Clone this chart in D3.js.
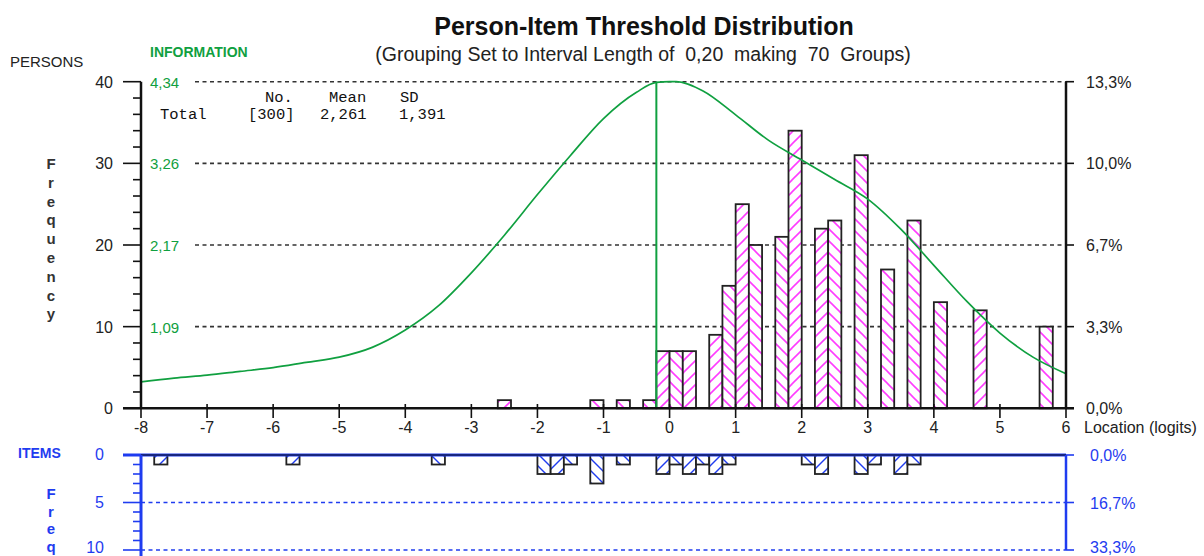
<!DOCTYPE html>
<html><head><meta charset="utf-8">
<script src="https://cdn.jsdelivr.net/npm/d3@7"></script>
<style>
body{margin:0;background:#fff}
svg{display:block}
text{font-family:Arial,"Liberation Sans",sans-serif}
</style>
</head><body><svg id="c" width="1204" height="556"></svg>
<script>
// ---------- data ----------
const personBinStart = [-2.6,-1.2,-0.8,-0.4,-0.2,0.0,0.2,0.6,0.8,1.0,1.2,1.6,1.8,2.2,2.4,2.8,3.2,3.6,4.0,4.6,5.6];
const personCounts   = [1,1,1,1,7,7,7,9,15,25,20,21,34,22,23,31,17,23,13,12,10];
const itemBinStart   = [-7.8,-5.8,-3.6,-2.0,-1.8,-1.6,-1.2,-0.8,-0.2,0.0,0.2,0.4,0.6,0.8,2.0,2.2,2.8,3.0,3.4,3.6];
const itemCounts     = [1,1,1,2,2,1,3,1,2,1,2,1,2,1,1,2,2,1,2,1];
const infoLocation   = [-8,-7.5,-7,-6.5,-6,-5.5,-5,-4.5,-4,-3.5,-3,-2.5,-2,-1.5,-1,-0.5,-0.2,0,0.1,0.5,1,1.5,2,2.5,3,3.5,4,4.5,5,5.5,6];
const infoValues     = [0.35,0.40,0.44,0.49,0.54,0.61,0.68,0.81,1.04,1.36,1.80,2.30,2.84,3.36,3.85,4.20,4.33,4.34,4.34,4.22,3.90,3.56,3.30,3.04,2.78,2.38,1.90,1.42,1.00,0.68,0.46];
const xTicks = [-8,-7,-6,-5,-4,-3,-2,-1,0,1,2,3,4,5,6];
const personTicks = [0,10,20,30,40];
const infoTickLabels = ["1,09","2,17","3,26","4,34"];
const personPctLabels = ["0,0%","3,3%","6,7%","10,0%","13,3%"];
const itemTicks = [0,5,10];
const itemPctLabels = ["0,0%","16,7%","33,3%"];
const binWidth = 0.2;
const infoMax = 4.34, infoLineAt = -0.2;
const statsHeader = ["No.","Mean","SD"];
const statsRow = ["Total","[300]","2,261","1,391"];

// ---------- setup ----------
const svg = d3.select("#c");
const GREEN = "#10a040", MAG = "#ff3cff", BLUE = "#1f3cf0", DARK = "#222";
const x = d3.scaleLinear().domain([-8,6]).range([141,1066]);
const y = d3.scaleLinear().domain([0,40]).range([408.3,81.7]);
const yInfo = d3.scaleLinear().domain([0,infoMax]).range([408.3,81.7]);
const yItem = d3.scaleLinear().domain([0,10]).range([455,550]);

const defs = svg.append("defs");
function hatch(id, color, dir, size, sw){
  const p = defs.append("pattern").attr("id",id).attr("patternUnits","userSpaceOnUse")
    .attr("width",size).attr("height",size);
  p.append("rect").attr("width",size).attr("height",size).attr("fill","#fff");
  const lines = dir==="/" ? [[-1,size+1,size+1,-1],[-size-1,size+1, 1,-1],[size-1,size+1,2*size+1,-1]]
                          : [[-1,-1,size+1,size+1],[-size-1,-1,1,size+1],[size-1,-1,2*size+1,size+1]];
  lines.forEach(l=>p.append("line").attr("x1",l[0]).attr("y1",l[1]).attr("x2",l[2]).attr("y2",l[3])
    .attr("stroke",color).attr("stroke-width",sw));
}
hatch("pf",MAG,"/",12,1.6);
hatch("pb",MAG,"\\",12,1.6);
hatch("if",BLUE,"/",12,1.4);
hatch("ib",BLUE,"\\",12,1.4);
const binIndex = v => Math.round(v/binWidth);

// ---------- titles ----------
svg.append("text").attr("x",644).attr("y",35).attr("text-anchor","middle")
  .attr("font-size",25).attr("font-weight","bold").attr("fill","#111").text("Person-Item Threshold Distribution");
svg.append("text").attr("x",643).attr("y",61).attr("text-anchor","middle").attr("xml:space","preserve")
  .attr("font-size",19.5).attr("fill","#222").style("white-space","pre")
  .text("(Grouping Set to Interval Length of  0,20  making  70  Groups)");
svg.append("text").attr("x",10).attr("y",67).attr("font-size",15).attr("fill",DARK).text("PERSONS");
svg.append("text").attr("x",150).attr("y",57).attr("font-size",14).attr("font-weight","bold").attr("fill",GREEN).text("INFORMATION");
svg.append("text").attr("x",18).attr("y",458).attr("font-size",14).attr("font-weight","bold").attr("fill",BLUE).text("ITEMS");

// vertical "Frequency"
"Frequency".split("").forEach((ch,i)=>{
  svg.append("text").attr("x",51).attr("y",169+i*18.8).attr("text-anchor","middle")
    .attr("font-size",15).attr("font-weight","bold").attr("fill","#333").text(ch);
});
"Freq".split("").forEach((ch,i)=>{
  svg.append("text").attr("x",51).attr("y",499+i*17.6).attr("text-anchor","middle")
    .attr("font-size",15).attr("font-weight","bold").attr("fill",BLUE).text(ch);
});

// ---------- upper panel grid ----------
svg.append("g").selectAll("line").data(personTicks.filter(d=>d>0)).join("line")
  .attr("x1",195).attr("x2",1066).attr("y1",d=>y(d)).attr("y2",d=>y(d))
  .attr("stroke","#333").attr("stroke-width",1.6).attr("stroke-dasharray","4,3.5");

// info labels
svg.append("g").selectAll("text").data(personTicks.filter(d=>d>0)).join("text")
  .attr("x",150).attr("y",d=>y(d)+6).attr("font-size",15).attr("fill",GREEN)
  .text((d,i)=>infoTickLabels[i]);

// stats block
const mono = 'font-family:"Liberation Mono","Courier New",monospace';
[265,329,400].forEach((px,i)=>{
  svg.append("text").attr("x",px).attr("y",102).attr("font-size",15.5).attr("style",mono).attr("fill","#111").text(statsHeader[i]);
});
[160,248,320,399].forEach((px,i)=>{
  svg.append("text").attr("x",px).attr("y",119).attr("font-size",15.5).attr("style",mono).attr("fill","#111").text(statsRow[i]);
});

// person bars
svg.append("g").selectAll("rect").data(personBinStart.map((s,i)=>({s,c:personCounts[i]}))).join("rect")
  .attr("x",d=>x(d.s)).attr("width",d=>x(d.s+binWidth)-x(d.s))
  .attr("y",d=>y(d.c)).attr("height",d=>y(0)-y(d.c))
  .attr("fill",d=>binIndex(d.s)%2!==0?"url(#pf)":"url(#pb)")
  .attr("stroke",DARK).attr("stroke-width",1.8);

// information curve
const line = d3.line().x((d,i)=>x(infoLocation[i])).y(d=>yInfo(d)).curve(d3.curveMonotoneX);
svg.append("path").attr("d",line(infoValues)).attr("fill","none").attr("stroke",GREEN).attr("stroke-width",1.7);
svg.append("line").attr("x1",x(infoLineAt)).attr("x2",x(infoLineAt)).attr("y1",y(0)).attr("y2",y(40))
  .attr("stroke",GREEN).attr("stroke-width",2);

// left axis
svg.append("line").attr("x1",141).attr("x2",141).attr("y1",y(40)).attr("y2",y(0)).attr("stroke","#111").attr("stroke-width",2.5);
svg.append("g").selectAll("line").data(d3.range(0,41,2)).join("line")
  .attr("x1",d=>d%10===0?123:133).attr("x2",141).attr("y1",d=>y(d)).attr("y2",d=>y(d))
  .attr("stroke","#111").attr("stroke-width",1.6);
svg.append("g").selectAll("text").data(personTicks).join("text")
  .attr("x",113).attr("y",d=>y(d)+6).attr("text-anchor","end").attr("font-size",16).attr("fill",DARK).text(d=>d);

// right axis
svg.append("line").attr("x1",1066).attr("x2",1066).attr("y1",y(40)).attr("y2",y(0)).attr("stroke","#111").attr("stroke-width",2.5);
svg.append("g").selectAll("line").data(personTicks).join("line")
  .attr("x1",1066).attr("x2",1074).attr("y1",d=>y(d)).attr("y2",d=>y(d)).attr("stroke","#111").attr("stroke-width",1.6);
svg.append("g").selectAll("text").data(personTicks).join("text")
  .attr("x",1086).attr("y",d=>y(d)+6).attr("font-size",16).attr("fill",DARK)
  .text((d,i)=>personPctLabels[i]);

// bottom axis
svg.append("line").attr("x1",123).attr("x2",1074).attr("y1",y(0)).attr("y2",y(0)).attr("stroke","#111").attr("stroke-width",2.5);
svg.append("g").selectAll("line").data(xTicks).join("line")
  .attr("x1",d=>x(d)).attr("x2",d=>x(d)).attr("y1",404).attr("y2",418).attr("stroke","#111").attr("stroke-width",1.6);
svg.append("g").selectAll("text").data(xTicks).join("text")
  .attr("x",d=>x(d)).attr("y",433).attr("text-anchor","middle").attr("font-size",16).attr("fill",DARK).text(d=>d);
svg.append("text").attr("x",1084).attr("y",433).attr("font-size",16).attr("fill",DARK).text("Location (logits)");

// ---------- lower panel ----------
svg.append("g").selectAll("line").data(itemTicks.filter(d=>d>0)).join("line")
  .attr("x1",141).attr("x2",1066).attr("y1",d=>yItem(d)).attr("y2",d=>yItem(d))
  .attr("stroke",BLUE).attr("stroke-width",1.5).attr("stroke-dasharray","4,3.5");
svg.append("g").selectAll("rect").data(itemBinStart.map((s,i)=>({s,c:itemCounts[i]}))).join("rect")
  .attr("x",d=>x(d.s)).attr("width",d=>x(d.s+binWidth)-x(d.s))
  .attr("y",yItem(0)).attr("height",d=>yItem(d.c)-yItem(0))
  .attr("fill",d=>binIndex(d.s)%2!==0?"url(#if)":"url(#ib)")
  .attr("stroke",DARK).attr("stroke-width",1.8);
svg.append("line").attr("x1",123).attr("x2",1066).attr("y1",yItem(0)).attr("y2",yItem(0)).attr("stroke",BLUE).attr("stroke-width",3);
svg.append("line").attr("x1",141).attr("x2",1066).attr("y1",yItem(0)).attr("y2",yItem(0)).attr("stroke","#111").attr("stroke-width",1);
svg.append("line").attr("x1",141).attr("x2",141).attr("y1",yItem(0)).attr("y2",556).attr("stroke",BLUE).attr("stroke-width",3);
svg.append("g").selectAll("line").data(d3.range(0,11,1)).join("line")
  .attr("x1",d=>d%5===0?123:133).attr("x2",141).attr("y1",d=>yItem(d)).attr("y2",d=>yItem(d))
  .attr("stroke",BLUE).attr("stroke-width",1.6);
svg.append("g").selectAll("text").data(itemTicks).join("text")
  .attr("x",104).attr("y",d=>Math.min(yItem(d)+5,553)).attr("text-anchor","end").attr("font-size",16).attr("fill",BLUE).text(d=>d);
svg.append("line").attr("x1",1066).attr("x2",1066).attr("y1",yItem(0)).attr("y2",yItem(10)).attr("stroke",BLUE).attr("stroke-width",2.5);
svg.append("g").selectAll("line").data(itemTicks).join("line")
  .attr("x1",1066).attr("x2",1074).attr("y1",d=>yItem(d)).attr("y2",d=>yItem(d)).attr("stroke",BLUE).attr("stroke-width",1.6);
svg.append("g").selectAll("text").data(itemTicks).join("text")
  .attr("x",1090).attr("y",d=>Math.min(yItem(d)+6,553)).attr("font-size",16).attr("fill",BLUE)
  .text((d,i)=>itemPctLabels[i]);
</script></body></html>
